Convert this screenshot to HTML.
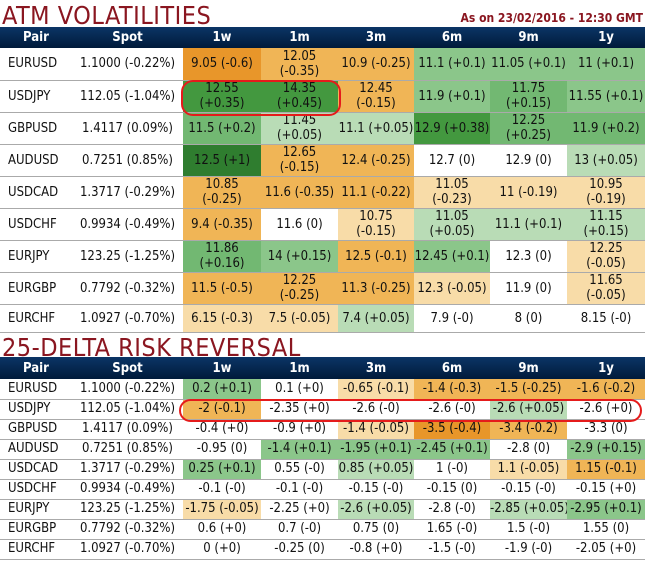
<!DOCTYPE html>
<html><head><meta charset="utf-8">
<style>
body{margin:0;background:#fff;width:651px;height:563px;overflow:hidden;position:relative;font-family:"DejaVu Sans Condensed","Liberation Sans",sans-serif;}
.title{position:absolute;left:2px;font-family:"Liberation Sans Narrow","DejaVu Sans Condensed","Liberation Sans",sans-serif;color:#8a1620;font-size:25px;letter-spacing:0.5px;line-height:1;}
#asof{position:absolute;right:8px;top:11px;color:#8a1620;font-weight:bold;font-size:12px;}
table{position:absolute;left:0;border-collapse:collapse;table-layout:fixed;width:645px;}
th{background:linear-gradient(#0b3566,#001a3a);color:#fff;font-weight:bold;font-size:13px;padding:0;}
td{font-size:13px;text-align:center;padding:0;border-bottom:1px solid #aaa;line-height:15px;color:#111;white-space:nowrap;overflow:hidden;}
#t2 td{line-height:18px;}
td.pair{text-align:left;padding-left:8px;}
.ell{position:absolute;border:2.5px solid #e51b1b;border-radius:12px;box-sizing:border-box;}
</style></head><body>
<div class="title" style="top:3px">ATM VOLATILITIES</div>
<div id="asof">As on 23/02/2016 - 12:30 GMT</div>
<table id="t1" style="top:27px"></table>
<div class="title" style="top:335px">25-DELTA RISK REVERSAL</div>
<table id="t2" style="top:357px"></table>
<div class="ell" style="left:181px;top:80px;width:160px;height:36px"></div>
<div class="ell" style="left:179px;top:399px;width:463px;height:23px"></div>
<script>
const tenors=["1w","1m","3m","6m","9m","1y"];
const pairs=["EURUSD","USDJPY","GBPUSD","AUDUSD","USDCAD","USDCHF","EURJPY","EURGBP","EURCHF"];
const spots=["1.1000 (-0.22%)","112.05 (-1.04%)","1.4117 (0.09%)","0.7251 (0.85%)","1.3717 (-0.29%)","0.9934 (-0.49%)","123.25 (-1.25%)","0.7792 (-0.32%)","1.0927 (-0.70%)"];
const atmVals=[
["9.05 (-0.6)","12.05 (-0.35)","10.9 (-0.25)","11.1 (+0.1)","11.05 (+0.1)","11 (+0.1)"],
["12.55 (+0.35)","14.35 (+0.45)","12.45 (-0.15)","11.9 (+0.1)","11.75 (+0.15)","11.55 (+0.1)"],
["11.5 (+0.2)","11.45 (+0.05)","11.1 (+0.05)","12.9 (+0.38)","12.25 (+0.25)","11.9 (+0.2)"],
["12.5 (+1)","12.65 (-0.15)","12.4 (-0.25)","12.7 (0)","12.9 (0)","13 (+0.05)"],
["10.85 (-0.25)","11.6 (-0.35)","11.1 (-0.22)","11.05 (-0.23)","11 (-0.19)","10.95 (-0.19)"],
["9.4 (-0.35)","11.6 (0)","10.75 (-0.15)","11.05 (+0.05)","11.1 (+0.1)","11.15 (+0.15)"],
["11.86 (+0.16)","14 (+0.15)","12.5 (-0.1)","12.45 (+0.1)","12.3 (0)","12.25 (-0.05)"],
["11.5 (-0.5)","12.25 (-0.25)","11.3 (-0.25)","12.3 (-0.05)","11.9 (0)","11.65 (-0.05)"],
["6.15 (-0.3)","7.5 (-0.05)","7.4 (+0.05)","7.9 (-0)","8 (0)","8.15 (-0)"]];
const atmShade=[
["O3","O2","O2","G1","G1","G1"],["G2","G2","O2","G1","G1b","G1"],["G1b","G0","G0","G2","G1b","G1b"],
["G3","O2","O2","W","W","G0"],["O2","O2","O2","O1","O1","O1"],["O2","W","O1","G0","G0","G0"],
["G1b","G1","O2","G1","W","O1"],["O2","O2","O2","O1","W","O1"],["O1","O1","G0","W","W","W"]];
const rrVals=[
["0.2 (+0.1)","0.1 (+0)","-0.65 (-0.1)","-1.4 (-0.3)","-1.5 (-0.25)","-1.6 (-0.2)"],
["-2 (-0.1)","-2.35 (+0)","-2.6 (-0)","-2.6 (-0)","-2.6 (+0.05)","-2.6 (+0)"],
["-0.4 (+0)","-0.9 (+0)","-1.4 (-0.05)","-3.5 (-0.4)","-3.4 (-0.2)","-3.3 (0)"],
["-0.95 (0)","-1.4 (+0.1)","-1.95 (+0.1)","-2.45 (+0.1)","-2.8 (0)","-2.9 (+0.15)"],
["0.25 (+0.1)","0.55 (-0)","0.85 (+0.05)","1 (-0)","1.1 (-0.05)","1.15 (-0.1)"],
["-0.1 (-0)","-0.1 (-0)","-0.15 (-0)","-0.15 (0)","-0.15 (-0)","-0.15 (+0)"],
["-1.75 (-0.05)","-2.25 (+0)","-2.6 (+0.05)","-2.8 (-0)","-2.85 (+0.05)","-2.95 (+0.1)"],
["0.6 (+0)","0.7 (-0)","0.75 (0)","1.65 (-0)","1.5 (-0)","1.55 (0)"],
["0 (+0)","-0.25 (0)","-0.8 (+0)","-1.5 (-0)","-1.9 (-0)","-2.05 (+0)"]];
const rrShade=[
["G1","W","O1","O2","O2","O2"],["O2","W","W","W","G0","W"],["W","W","O1","O3","O2","W"],
["W","G1","G1","G1","W","G1"],["G1","W","G0","W","O1","O2"],["W","W","W","W","W","W"],
["O1","W","G0","W","G0","G1"],["W","W","W","W","W","W"],["W","W","W","W","W","W"]];
const colors={O3:"#e8962a",O2:"#f0b556",O1:"#f8dca8",G3:"#2f7d2f",G2:"#43983f",G1:"#8bc68a",G1b:"#72b872",G0:"#b9dcb6",W:"#ffffff"};
const colW=[72,111,78,77,76,76,77,78];
function build(id,vals,shade,rowH,lastH,wrap){
  const t=document.getElementById(id);
  const cg=document.createElement("colgroup");
  colW.forEach(w=>{const c=document.createElement("col");c.style.width=w+"px";cg.appendChild(c);});
  t.appendChild(cg);
  const hr=document.createElement("tr");hr.style.height=(id==="t1"?21:22)+"px";
  ["Pair","Spot"].concat(tenors).forEach(h=>{const th=document.createElement("th");th.textContent=h;
    
    
    hr.appendChild(th);});
  t.appendChild(hr);
  pairs.forEach((p,i)=>{
    const tr=document.createElement("tr");tr.style.height=(i===pairs.length-1?lastH:rowH)+"px";
    
    
    const a=document.createElement("td");a.className="pair";a.textContent=p;
    
    
    tr.appendChild(a);
    const s=document.createElement("td");s.textContent=spots[i];
    
    
    tr.appendChild(s);
    vals[i].forEach((v,j)=>{
      const td=document.createElement("td");
      td.style.background=colors[shade[i][j]];
      if(wrap&&v.length>=13){const k=v.indexOf(" ");td.innerHTML=v.slice(0,k)+"<br>"+v.slice(k+1);}else td.textContent=v;
      
      
      tr.appendChild(td);
    });
    t.appendChild(tr);
  });
}
build("t1",atmVals,atmShade,32,28,true);
build("t2",rrVals,rrShade,20,20,false);
</script>
</body></html>
